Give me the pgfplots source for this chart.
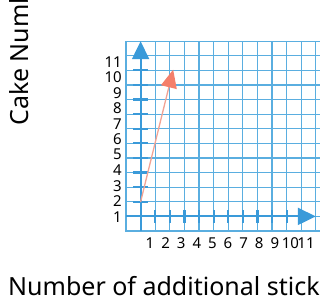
\documentclass[border=0pt]{standalone}
\usepackage{pgfplots}
\pgfplotsset{compat=1.18}
\usepackage{fontspec}
\setmainfont{Noto Sans}
\usetikzlibrary{arrows.meta}
\definecolor{gridblue}{HTML}{5AAEE0}
\definecolor{axblue}{HTML}{3A9AD9}
\definecolor{arrred}{HTML}{F47F6B}
\definecolor{linered}{HTML}{F2A394}
\begin{document}
\begin{tikzpicture}
\useasboundingbox (0,0) rectangle (320pt,302pt);
\clip (0,0) rectangle (320pt,302pt);
\begin{axis}[at={(126pt,71pt)}, anchor=south west,
  x=14.6pt, y=14.6pt, xmin=-1, xmax=13, ymin=-1, ymax=12,
  xtick={-1,...,13}, ytick={-1,...,12},
  xticklabels={}, yticklabels={}, major tick length=0pt,
  grid=major, grid style={gridblue, line width=1.1pt},
  axis line style={gridblue, line width=1.2pt}, clip=false]
\pgfplotsinvokeforeach{1,...,10}{
  \draw[axblue, line width=2.2pt] (axis cs:-0.5,#1) -- (axis cs:0.5,#1);
  \draw[axblue, line width=2.2pt] (axis cs:#1,-0.45) -- (axis cs:#1,0.45);
}
\draw[axblue, line width=2pt, -{Triangle[length=18pt,width=17pt]}] (axis cs:0,-1) -- (axis cs:0,12);
\draw[axblue, line width=2pt, -{Triangle[length=18pt,width=17pt]}] (axis cs:-1,0) -- (axis cs:12,0);
\addplot[linered, line width=1.3pt, -{Triangle[length=18pt,width=16pt,fill=arrred,color=arrred]}] coordinates {(0,1) (2.23,10.05)};
\end{axis}
\foreach \k in {1,...,11}{
  \node[anchor=east, inner sep=0pt, font=\fontsize{15}{15}\selectfont] at (122pt, {85.3pt+(\k-1)*15.5pt}) {\k};
  \node[anchor=center, inner sep=0pt, font=\fontsize{15}{15}\selectfont] at ({150pt+(\k-1)*15.6pt}, 59pt) {\k};
}
\node[anchor=base west, inner sep=0pt, font=\fontsize{25}{25}\selectfont] at (8pt,7pt) {Number of additional sticks};
\node[rotate=90, anchor=base west, inner sep=0pt, font=\fontsize{25}{25}\selectfont] at (28pt,176pt) {Cake Number};
\end{tikzpicture}
\end{document}
